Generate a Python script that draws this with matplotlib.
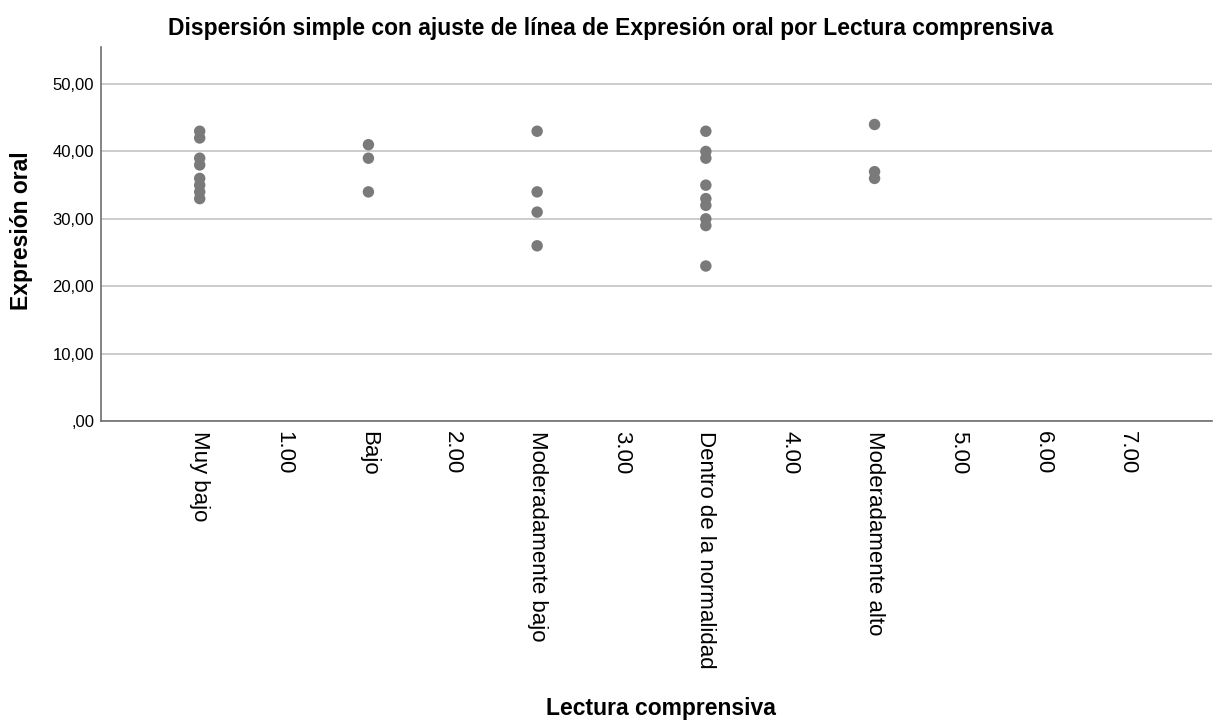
import matplotlib
matplotlib.use("Agg")
import matplotlib.pyplot as plt
from matplotlib.ticker import FuncFormatter

# categorias del eje x (en el orden que muestra el grafico)
categorias = ["Muy bajo", "1.00", "Bajo", "2.00", "Moderadamente bajo", "3.00",
              "Dentro de la normalidad", "4.00", "Moderadamente alto", "5.00",
              "6.00", "7.00"]

# puntajes de Expresion oral por grupo de Lectura comprensiva
muy_bajo = [43, 42, 39, 38, 36, 35, 34, 33]
bajo = [41, 39, 34]
mod_bajo = [43, 34, 31, 26]
dentro_normalidad = [43, 40, 39, 35, 33, 32, 30, 29, 23]
mod_alto = [44, 37, 36]

grupos = {"Muy bajo": muy_bajo, "Bajo": bajo, "Moderadamente bajo": mod_bajo,
          "Dentro de la normalidad": dentro_normalidad, "Moderadamente alto": mod_alto}

plt.rcParams["font.family"] = ["Liberation Sans", "DejaVu Sans"]

fig = plt.figure(figsize=(12.13, 7.2), dpi=100)
ax = fig.add_axes([101 / 1213, 1 - 421 / 720, 1111 / 1213, 374 / 720])

for nombre, valores in grupos.items():
    x = [categorias.index(nombre)] * len(valores)
    ax.scatter(x, valores, s=68, color="#7a7a7a", edgecolors="none", zorder=3)

ax.set_xlim(-1.17, 12.0)
ax.set_ylim(0, 55.5)
ax.set_yticks([0, 10, 20, 30, 40, 50])
ax.yaxis.set_major_formatter(FuncFormatter(lambda v, p: ",00" if v == 0 else f"{v:.2f}".replace(".", ",")))
ax.set_xticks(range(len(categorias)))
ax.set_xticklabels(categorias, rotation=-90, fontsize=16, va="top", ha="center")
ax.tick_params(axis="y", length=0, labelsize=12, pad=5)
ax.tick_params(axis="x", length=0, pad=7)

ax.grid(axis="y", color="#c8c8c8", linewidth=1.3)
ax.set_axisbelow(True)
for lado in ["top", "right"]:
    ax.spines[lado].set_visible(False)
for lado in ["left", "bottom"]:
    ax.spines[lado].set_color("#6e6e6e")
    ax.spines[lado].set_linewidth(1.2)

fig.text(0.503, 1 - 28 / 720, "Dispersión simple con ajuste de línea de Expresión oral por Lectura comprensiva",
         ha="center", va="center", fontsize=16.5, fontweight="bold")
fig.text(22 / 1213, 1 - 231 / 720, "Expresión oral", rotation=90, ha="center", va="center",
         fontsize=16.5, fontweight="bold")
fig.text(661 / 1213, 1 - 708 / 720, "Lectura comprensiva", ha="center", va="center",
         fontsize=16.5, fontweight="bold")

plt.savefig("out.png", dpi=100)
